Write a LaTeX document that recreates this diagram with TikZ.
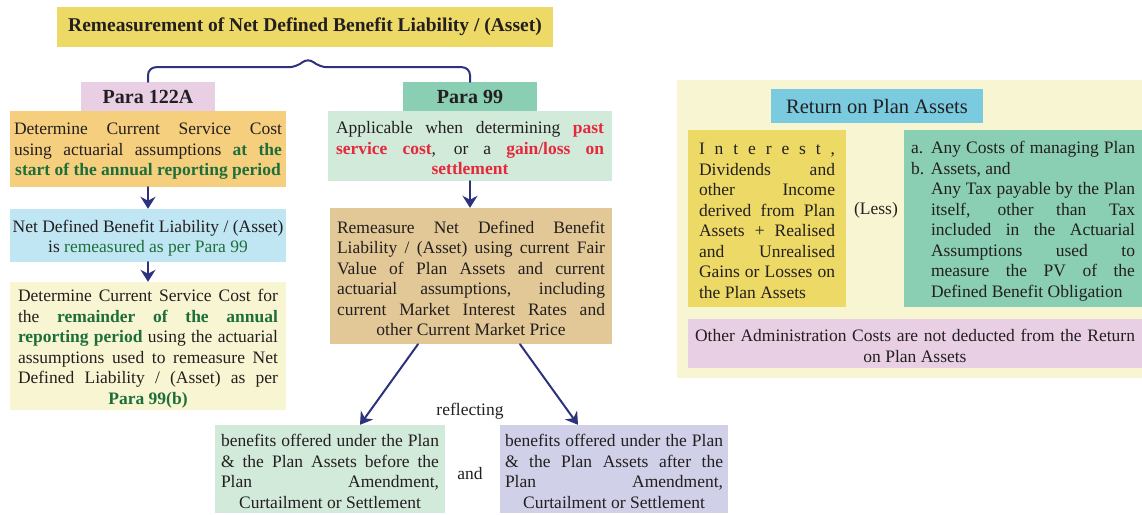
\documentclass[tikz,border=0pt]{standalone}
\usepackage{fontspec}
\setmainfont{Liberation Serif}
\usetikzlibrary{arrows.meta}
\definecolor{ink}{HTML}{231F20}
\definecolor{navyline}{HTML}{2D327D}
\definecolor{dgreen}{HTML}{1E6E3C}
\definecolor{hot}{HTML}{E6283C}
\definecolor{mustard}{HTML}{EDD965}
\definecolor{orchid}{HTML}{E8CFE4}
\definecolor{jade}{HTML}{8ACEB4}
\definecolor{apricot}{HTML}{F5CF7D}
\definecolor{skyblue}{HTML}{BFE6F2}
\definecolor{cream}{HTML}{F8F5D2}
\definecolor{mint}{HTML}{D2EADA}
\definecolor{sand}{HTML}{E2C896}
\definecolor{lilac}{HTML}{D0D0E9}
\definecolor{cyanbox}{HTML}{7ACBE0}
\newcommand{\gb}[1]{\textbf{\color{dgreen}#1}}
\newcommand{\rb}[1]{\textbf{\color{hot}#1}}
\newcommand{\lastcentre}{\leftskip=0pt plus 1fil\rightskip=0pt plus -1fil\parfillskip=0pt plus 2fil\relax}
\tolerance=10000
\hbadness=10000
\begin{document}
\begin{tikzpicture}[x=1pt, y=-1pt, line join=round, line cap=round, >={Stealth[length=12pt,width=15pt]},
  font=\fontsize{17.5}{20.5}\selectfont, text=ink,
  box/.style={rectangle, inner xsep=4pt, inner ysep=0pt, align=justify, execute at end node={\kern-5pt}},
  tag/.style={rectangle, font=\fontsize{20}{22}\selectfont\bfseries, minimum width=134pt, minimum height=29pt, inner sep=0pt},
  link/.style={->, navyline, line width=2pt}]
  \useasboundingbox (0,0) rectangle (1142,514);
  \node (title) at (305,27) [fill=mustard, minimum width=496pt, minimum height=40pt, font=\fontsize{19.5}{22}\selectfont\bfseries] {Remeasurement of Net Defined Benefit Liability / (Asset)};
  \node (p122) at (148,96.5) [tag, fill=orchid] {Para 122A};
  \node (p99) at (470,96.5) [tag, fill=jade] {Para 99};
  \draw[navyline, line width=2pt, rounded corners=8pt] (p122.north) |- ([xshift=-8pt,yshift=-20pt]title.south) -- ([xshift=3pt,yshift=-10pt]title.south) -- ([xshift=14pt,yshift=-20pt]title.south) -| (p99.north);

  \node (start) at (148,149) [box, fill=apricot, text width=268pt, minimum height=76pt] {\lastcentre Determine Current Service Cost\linebreak using actuarial assumptions \gb{at the\linebreak start of the annual reporting period}\par};
  \node (remeas) at (148,235.5) [box, fill=skyblue, inner xsep=0pt, text width=276pt, minimum height=53pt] {\centering Net Defined Benefit Liability / (Asset)\par is {\color{dgreen}remeasured as per Para 99}\par};
  \node (rest) at (148,346) [box, fill=cream, inner xsep=8pt, text width=260pt, minimum height=128pt] {\lastcentre Determine Current Service Cost for\linebreak the \gb{remainder of the annual\linebreak reporting period} using the actuarial\linebreak assumptions used to remeasure Net\linebreak Defined Liability / (Asset) as per\linebreak \gb{Para 99(b)}\par};
  \draw[link] (start) -- (remeas);
  \draw[link] (remeas) -- (rest);

  \node (apply) at (470,146) [box, fill=mint, inner xsep=8pt, text width=268pt, minimum height=70pt] {\lastcentre Applicable when determining \rb{past\linebreak service cost}, or a \rb{gain/loss on\linebreak settlement}\par};
  \node (fair) at (471,276) [box, fill=sand, inner xsep=7pt, text width=268pt, minimum height=136pt] {\lastcentre Remeasure Net Defined Benefit\linebreak Liability / (Asset) using current Fair\linebreak Value of Plan Assets and current\linebreak actuarial assumptions, including\linebreak current Market Interest Rates and\linebreak other Current Market Price\par};
  \draw[link] (apply.south) -- (apply.south |- fair.north);

  \node (before) at (330,469) [box, fill=mint, inner xsep=6pt, text width=218pt, minimum height=88pt] {\lastcentre benefits offered under the Plan\linebreak \& the Plan Assets before the\linebreak Plan Amendment,\linebreak Curtailment or Settlement\par};
  \node (after) at (614,469) [box, fill=lilac, inner xsep=5pt, text width=218pt, minimum height=88pt] {\lastcentre benefits offered under the Plan\linebreak \& the Plan Assets after the\linebreak Plan Amendment,\linebreak Curtailment or Settlement\par};
  \node (reflect) at (470,411) {reflecting};
  \node (and) at (470,474) {and};
  \draw[link] ([xshift=-53pt]fair.south) -- ([xshift=30pt]before.north);
  \draw[link] ([xshift=49pt]fair.south) -- ([xshift=-36pt]after.north);

  \fill[cream] (677,80) rectangle (1142,378);
  \node (ret) at (877,106) [fill=cyanbox, minimum width=212pt, minimum height=34pt, font=\fontsize{20.5}{22}\selectfont] {Return on Plan Assets};
  \node (income) at (767,218.5) [box, fill=mustard, inner xsep=11pt, text width=136pt, minimum height=177pt] {\makebox[\hsize][s]{I\hfil n\hfil t\hfil e\hfil r\hfil e\hfil s\hfil t\hfil ,}\linebreak Dividends and\linebreak other Income\linebreak derived from Plan\linebreak Assets + Realised\linebreak and Unrealised\linebreak Gains or Losses on\linebreak the Plan Assets\par};
  \node (less) at (876,210) {(Less)};
  \node (costs) at (1023,218.5) [box, fill=jade, inner xsep=7pt, text width=224pt, minimum height=177pt] {\leftskip=20pt\relax\llap{\makebox[20pt][l]{a.}}Any Costs of managing Plan\linebreak \llap{\makebox[20pt][l]{b.}}Assets, and\newline Any Tax payable by the Plan\linebreak itself, other than Tax\linebreak included in the Actuarial\linebreak Assumptions used to\linebreak measure the PV of the\linebreak Defined Benefit Obligation\par};
  \node (admin) at (915,343.5) [box, fill=orchid, inner xsep=7pt, text width=440pt, minimum height=49pt] {\lastcentre Other Administration Costs are not deducted from the Return\linebreak on Plan Assets\par};
\end{tikzpicture}
\end{document}
